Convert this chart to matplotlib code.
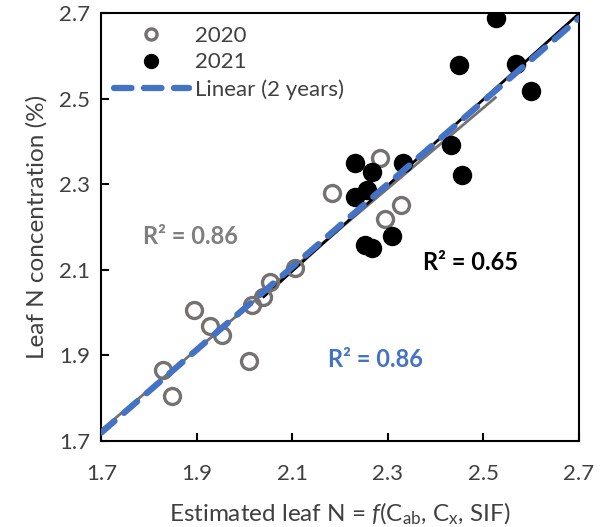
import numpy as np
import matplotlib
matplotlib.use("Agg")
import matplotlib.pyplot as plt
from matplotlib.lines import Line2D

plt.rcParams["font.family"] = ["Lato", "DejaVu Sans"]
plt.rcParams["mathtext.fontset"] = "custom"
plt.rcParams["mathtext.rm"] = "Lato"
plt.rcParams["mathtext.it"] = "Lato:italic"
plt.rcParams["mathtext.bf"] = "Lato:bold"

# ========================== data ========================== #
x_2020 = [1.895, 1.928, 1.952, 1.830, 1.849, 2.010, 2.015, 2.038, 2.053, 2.105,
          2.283, 2.182, 2.327, 2.294]
y_2020 = [2.006, 1.968, 1.947, 1.866, 1.805, 1.887, 2.018, 2.036, 2.072, 2.104,
          2.361, 2.279, 2.252, 2.219]

x_2021 = [2.526, 2.449, 2.568, 2.600, 2.431, 2.456, 2.332, 2.231, 2.267, 2.256,
          2.231, 2.252, 2.266, 2.308]
y_2021 = [2.690, 2.579, 2.581, 2.519, 2.391, 2.322, 2.351, 2.349, 2.330, 2.287,
          2.271, 2.158, 2.150, 2.179]

# trend lines (end points)
fit_2020_x = [1.70, 2.525]
fit_2020_y = [1.725, 2.503]
fit_2021_x = [2.04, 2.70]
fit_2021_y = [2.037, 2.70]
fit_all_x = [1.70, 2.70]
fit_all_y = [1.719, 2.689]

ticks = [1.7, 1.9, 2.1, 2.3, 2.5, 2.7]

gray = "#767171"
blue = "#4472C4"
txt = "#404040"

# ========================== plot ========================== #
fig = plt.figure(figsize=(6.02, 5.27), dpi=100)
ax = fig.add_axes([0.1683, 0.1638, 0.7935, 0.8106])

ax.plot(fit_2020_x, fit_2020_y, color=gray, lw=2.0, zorder=2)
ax.plot(fit_2021_x, fit_2021_y, color="black", lw=2.0, zorder=2)

ax.plot(x_2020, y_2020, "o", ms=11.5, mfc="none", mec=gray, mew=2.4, zorder=3)
ax.plot(x_2021, y_2021, "o", ms=13, mfc="black", mec="black", zorder=3)

ax.plot(fit_all_x, fit_all_y, color=blue, lw=4.5, dashes=(2.8, 2.0),
        dash_capstyle="round", zorder=4)

ax.set_xlim(1.7, 2.7)
ax.set_ylim(1.7, 2.7)
ax.set_xticks(ticks)
ax.set_yticks(ticks)
ax.set_xticklabels([f"{t:.1f}" for t in ticks])
ax.set_yticklabels([f"{t:.1f}" for t in ticks])
ax.tick_params(direction="in", length=6, width=1.5, labelsize=16,
               colors="black", labelcolor=txt)
ax.tick_params(axis="x", pad=17)
ax.tick_params(axis="y", pad=8)
for s in ax.spines.values():
    s.set_linewidth(1.5)

ax.set_xlabel("Estimated leaf N = $\\mathit{f}$(C$_{\\rm ab}$, C$_{\\rm x}$, SIF)",
              fontsize=17.5, color=txt, labelpad=12)
ax.set_ylabel("Leaf N concentration (%)", fontsize=17.5, color=txt, labelpad=8)

ax.text(1.886, 2.177, "R² = 0.86", color="#7f7f7f", fontsize=17,
        fontweight="bold", ha="center", va="center")
ax.text(2.472, 2.117, "R² = 0.65", color="black", fontsize=17,
        fontweight="bold", ha="center", va="center")
ax.text(2.273, 1.890, "R² = 0.86", color=blue, fontsize=17,
        fontweight="bold", ha="center", va="center")

handles = [
    Line2D([], [], ls="none", marker="o", ms=8, mfc="none", mec=gray, mew=2.4),
    Line2D([], [], ls="none", marker="o", ms=10, mfc="black", mec="black"),
    Line2D([], [], color=blue, lw=4.5, dashes=(2.8, 2.0), dash_capstyle="round"),
]
ax.legend(handles, ["2020", "2021", "Linear (2 years)"], loc="upper left",
          frameon=False, fontsize=16, handlelength=3.4, handletextpad=0.25,
          labelspacing=0.3, borderaxespad=0.1, borderpad=0.45, labelcolor=txt)

fig.savefig("out.png", dpi=100)
